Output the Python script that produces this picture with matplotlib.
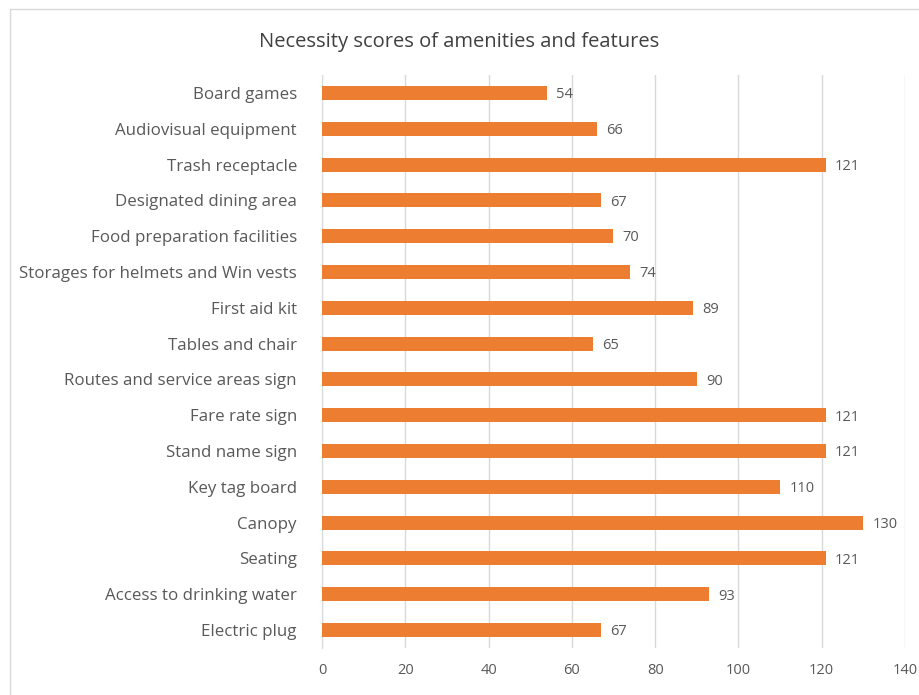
import matplotlib
matplotlib.use("Agg")
import matplotlib.pyplot as plt
from matplotlib.patches import Rectangle

categories = [
    "Board games",
    "Audiovisual equipment",
    "Trash receptacle",
    "Designated dining area",
    "Food preparation facilities",
    "Storages for helmets and Win vests",
    "First aid kit",
    "Tables and chair",
    "Routes and service areas sign",
    "Fare rate sign",
    "Stand name sign",
    "Key tag board",
    "Canopy",
    "Seating",
    "Access to drinking water",
    "Electric plug",
]
scores = [54, 66, 121, 67, 70, 74, 89, 65, 90, 121, 121, 110, 130, 121, 93, 67]
x_ticks = [0, 20, 40, 60, 80, 100, 120, 140]

plt.rcParams["font.family"] = ["Open Sans", "DejaVu Sans"]
BAR = "#ED7D31"
TXT = "#595959"

fig = plt.figure(figsize=(9.2, 6.95), dpi=100)
W, H = 920, 695
ax = fig.add_axes([322 / W, 1 - 648 / H, (905 - 322) / W, (648 - 75) / H])

# chart frame
fig.patches.append(Rectangle((10.5 / W, -0.05), 1.0, 1 - 8.5 / H + 0.05,
                             transform=fig.transFigure, fill=False,
                             edgecolor="#D9D9D9", linewidth=1.0))

y = list(range(len(categories)))
ax.barh(y, scores, height=0.39, color=BAR, zorder=3)
for yi, v in zip(y, scores):
    ax.text(v + 2.2, yi + 0.05, str(v), va="center", ha="left", fontsize=10.5,
            color=TXT)

ax.set_ylim(len(categories) - 0.5, -0.5)
ax.set_xlim(0, 140)
ax.set_yticks(y)
ax.set_yticklabels(categories, fontsize=12.2, color=TXT)
ax.set_xticks(x_ticks)
ax.set_xticklabels([str(t) for t in x_ticks], fontsize=10.5, color=TXT)
ax.tick_params(axis="both", length=0)
ax.tick_params(axis="y", pad=18)
ax.tick_params(axis="x", pad=11)
ax.grid(axis="x", color="#D9D9D9", linewidth=1.0, zorder=0)
for s in ["top", "right", "bottom"]:
    ax.spines[s].set_visible(False)
ax.spines["left"].set_color("#D9D9D9")

fig.text(459 / W, 1 - 42 / H, "Necessity scores of amenities and features",
         ha="center", va="center", fontsize=14.5, color="#404040")

fig.savefig("out.png", dpi=100)
